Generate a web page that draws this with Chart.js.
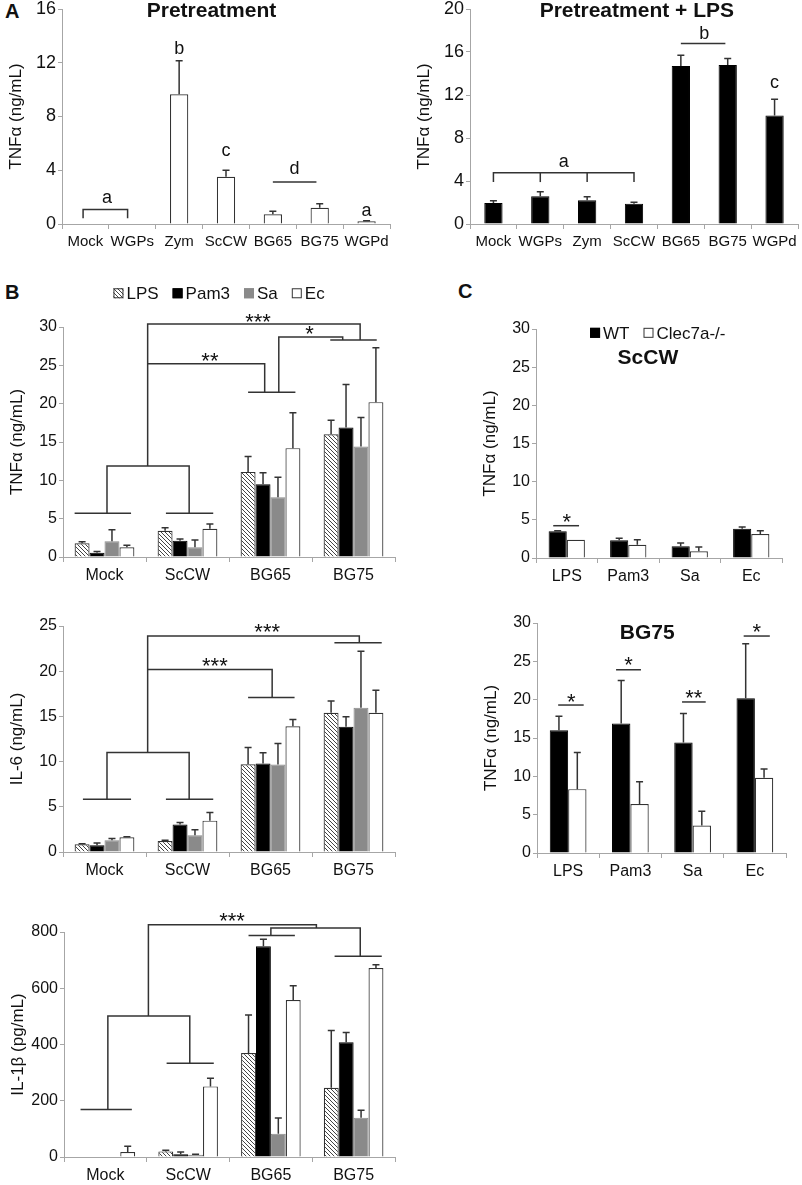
<!DOCTYPE html>
<html>
<head>
<meta charset="utf-8">
<script src="https://cdn.jsdelivr.net/npm/chart.js@4.4.1/dist/chart.umd.min.js"></script>
<style>
  body { margin: 0; background: #fff; width: 802px; height: 1185px; position: relative; overflow: hidden;
         font-family: "Liberation Sans", Arial, sans-serif; }
  canvas { position: absolute; }
  .tag { position: absolute; font-weight: bold; font-size: 20px; line-height: 20px; color: #111; }
</style>
</head>
<body>
<div class="tag" style="left:5px;top:1px">A</div>
<div class="tag" style="left:5px;top:282px">B</div>
<div class="tag" style="left:458px;top:281px">C</div>
<canvas id="aLeft"></canvas>
<canvas id="aRight"></canvas>
<canvas id="bTnf"></canvas>
<canvas id="bIl6"></canvas>
<canvas id="bIl1"></canvas>
<canvas id="cSccw"></canvas>
<canvas id="cBg75"></canvas>
<script>
// ---- data (means and SD) ----
const pretreatLabels = ['Mock', 'WGPs', 'Zym', 'ScCW', 'BG65', 'BG75', 'WGPd'];
const pretreatTnf   = [0, 0, 9.65, 3.52, 0.72, 1.21, 0.2];
const pretreatSd    = [0, 0, 2.5, 0.48, 0.22, 0.3, 0.05];
const lpsTnf        = [1.95, 2.57, 2.2, 1.89, 14.7, 14.8, 10.1];
const lpsSd         = [0.22, 0.43, 0.34, 0.13, 1.0, 0.6, 1.5];

const groups  = ['Mock', 'ScCW', 'BG65', 'BG75'];
const stimuli = ['LPS', 'Pam3', 'Sa', 'Ec'];

const tnfLps  = [1.8, 3.42, 11.1, 16.0],  tnfLpsSd  = [0.2, 0.41, 2.0, 1.85];
const tnfPam3 = [0.54, 2.12, 9.5, 16.9],  tnfPam3Sd = [0.18, 0.22, 1.5, 5.6];
const tnfSa   = [2.07, 1.26, 7.8, 14.4],  tnfSaSd   = [1.5, 0.95, 2.6, 3.8];
const tnfEc   = [1.26, 3.69, 14.2, 20.2], tnfEcSd   = [0.27, 0.63, 4.6, 7.1];

const il6Lps  = [0.85, 1.22, 9.7, 15.4],  il6LpsSd  = [0.05, 0.07, 1.85, 1.3];
const il6Pam3 = [0.74, 3.03, 9.79, 13.85], il6Pam3Sd = [0.26, 0.22, 1.2, 1.1];
const il6Sa   = [1.29, 1.85, 9.67, 15.95], il6SaSd  = [0.19, 0.62, 2.33, 6.25];
const il6Ec   = [1.62, 3.47, 13.9, 15.4],  il6EcSd  = [0.08, 0.89, 0.76, 2.5];

const il1Lps  = [0, 20, 370, 246],   il1LpsSd  = [0, 4, 135, 204];
const il1Pam3 = [0, 9.5, 749, 408],  il1Pam3Sd = [0, 8.5, 25, 35];
const il1Sa   = [0, 8, 83, 140],     il1SaSd   = [0, 1.5, 56, 26];
const il1Ec   = [17.8, 251, 558, 672], il1EcSd = [20, 29, 51, 12];

const sccwWt = [3.49, 2.31, 1.53, 3.84], sccwWtSd = [0.08, 0.29, 0.43, 0.21];
const sccwKo = [2.4, 1.74, 0.87, 3.14],  sccwKoSd = [0, 0.66, 0.57, 0.43];
const bg75Wt = [16.0, 16.9, 14.4, 20.2], bg75WtSd = [1.85, 5.6, 3.8, 7.1];
const bg75Ko = [8.33, 6.4, 3.58, 9.8],   bg75KoSd = [4.77, 2.9, 1.87, 1.15];

// ---- annotations, in (category index, value) units ----
const aLeftLines = [[[-0.05, 0.42], [-0.05, 1.07], [0.9, 1.07], [0.9, 0.42]], [[4.0, 3.13], [4.93, 3.13]]];
const aLeftText  = [[0.46, 1.9, 'a'], [2, 13, 'b'], [3, 5.4, 'c'], [4.46, 4.1, 'd'], [6, 0.97, 'a']];
const aRightLines = [[[0, 3.9], [0, 4.77], [3, 4.77], [3, 3.9]], [[1, 4.77], [1, 3.9]], [[2, 4.77], [2, 3.9]],
                     [[4.0, 16.8], [4.95, 16.8]]];
const aRightText  = [[1.5, 5.8, 'a'], [4.5, 17.7, 'b'], [6, 13.1, 'c']];

const tnfLines = [
  [[-0.36, 5.72], [0.32, 5.72]], [[0.74, 5.72], [1.31, 5.72]],
  [[0.03, 5.72], [0.03, 11.87], [1.02, 11.87], [1.02, 5.72]],
  [[0.52, 11.87], [0.52, 30.4], [3.08, 30.4], [3.08, 28.3]],
  [[0.52, 25.2], [1.93, 25.2], [1.93, 21.5]],
  [[1.73, 21.5], [2.30, 21.5]],
  [[2.1, 21.5], [2.1, 28.7], [2.87, 28.7], [2.87, 28.3]],
  [[2.72, 28.3], [3.28, 28.3]]
];
const tnfText = [[1.27, 26.1, '**'], [1.85, 31.2, '***'], [2.47, 29.6, '*']];

const il6Lines = [
  [[-0.26, 5.83], [0.32, 5.83]], [[0.74, 5.83], [1.31, 5.83]],
  [[0.03, 5.83], [0.03, 11], [1.02, 11], [1.02, 5.83]],
  [[0.52, 11], [0.52, 23.9], [3.07, 23.9], [3.07, 23.15]],
  [[0.52, 20.2], [2.02, 20.2], [2.02, 17.1]],
  [[1.73, 17.1], [2.29, 17.1]],
  [[2.77, 23.15], [3.34, 23.15]]
];
const il6Text = [[1.96, 24.75, '***'], [1.33, 21.0, '***']];

const il1Lines = [
  [[-0.3, 169], [0.32, 169]], [[0.74, 333], [1.31, 333]],
  [[0.03, 169], [0.03, 501], [1.02, 501], [1.02, 333]],
  [[0.52, 501], [0.52, 826], [2.55, 826], [2.55, 814]],
  [[2.0, 788], [2.0, 814], [3.08, 814], [3.08, 714]],
  [[1.73, 788], [2.29, 788]],
  [[2.77, 714], [3.34, 714]]
];
const il1Text = [[1.53, 853, '***']];

const sccwLines = [[[-0.22, 4.23], [0.2, 4.23]]];
const sccwText  = [[0, 5.2, '*']];
const bg75Lines = [[[-0.16, 19.3], [0.25, 19.3]], [[0.77, 23.9], [1.17, 23.9]],
                   [[1.83, 19.7], [2.21, 19.7]], [[2.82, 28.3], [3.24, 28.3]]];
const bg75Text  = [[0.05, 20.2, '*'], [0.97, 25.0, '*'], [2.02, 20.7, '**'], [3.03, 29.3, '*']];

// ---- styles ----
const FONT = '"Liberation Sans", Arial, sans-serif';
const AXIS = '#a6a6a6';
const INK = '#333';
Chart.defaults.font.family = FONT;
Chart.defaults.color = '#111';

function hatch() {
  const c = document.createElement('canvas');
  c.width = 4; c.height = 4;
  const g = c.getContext('2d');
  g.fillStyle = '#fff'; g.fillRect(0, 0, 4, 4);
  g.strokeStyle = '#444'; g.lineWidth = 1;
  g.beginPath();
  g.moveTo(0, 0); g.lineTo(4, 4);
  g.moveTo(-1, 3); g.lineTo(1, 5);
  g.moveTo(3, -1); g.lineTo(5, 1);
  g.stroke();
  return g.createPattern(c, 'repeat');
}
const HATCH = hatch();

const styles = {
  white: {backgroundColor: '#fff', borderColor: INK, borderWidth: 1.2},
  black: {backgroundColor: '#000', borderColor: '#000', borderWidth: 1},
  gray:  {backgroundColor: '#8a8a8a', borderColor: '#8a8a8a', borderWidth: 1},
  hatch: {backgroundColor: HATCH, borderColor: INK, borderWidth: 1.2}
};

function series(label, data, sd, style) {
  return Object.assign({label, data, sd}, styles[style]);
}

// error bars, brackets, stars, titles and legends
const annotate = {
  id: 'annotate',
  afterDatasetsDraw(chart, args, o) {
    const {ctx, scales: {x, y}} = chart;
    ctx.save();
    ctx.strokeStyle = INK;
    ctx.lineWidth = 1.5;
    chart.data.datasets.forEach((ds, i) => {
      chart.getDatasetMeta(i).data.forEach((bar, j) => {
        const sd = ds.sd[j];
        if (!sd) return;
        const top = y.getPixelForValue(ds.data[j] + sd);
        ctx.beginPath();
        ctx.moveTo(bar.x, bar.y); ctx.lineTo(bar.x, top);
        ctx.moveTo(bar.x - 3.5, top); ctx.lineTo(bar.x + 3.5, top);
        ctx.stroke();
      });
    });
    (o.lines || []).forEach(pts => {
      ctx.beginPath();
      pts.forEach(([a, b], k) => {
        const px = x.getPixelForValue(a), py = y.getPixelForValue(b);
        if (k) ctx.lineTo(px, py); else ctx.moveTo(px, py);
      });
      ctx.stroke();
    });
    ctx.fillStyle = '#111';
    ctx.textAlign = 'center';
    ctx.textBaseline = 'middle';
    (o.texts || []).forEach(([a, b, t]) => {
      const stars = /^\*+$/.test(t);
      ctx.font = (stars ? '22px ' : '18px ') + FONT;
      ctx.fillText(t, x.getPixelForValue(a), y.getPixelForValue(b) + (stars ? 5 : 0));
    });
    if (o.title) {
      ctx.font = 'bold 21px ' + FONT;
      ctx.fillText(o.title[2], x.getPixelForValue(o.title[0]), y.getPixelForValue(o.title[1]));
    }
    if (o.legend) {
      ctx.font = '17px ' + FONT;
      const box = 10, gap = 3, space = 14;
      const items = chart.data.datasets.map(ds => ({ds, w: ctx.measureText(ds.label).width}));
      const total = items.reduce((s, it) => s + box + gap + it.w, 0) + space * (items.length - 1);
      let cx = x.getPixelForValue(o.legend[0]) - total / 2;
      const cy = y.getPixelForValue(o.legend[1]);
      ctx.textAlign = 'left';
      items.forEach(({ds, w}) => {
        ctx.fillStyle = ds.backgroundColor;
        ctx.fillRect(cx, cy - box / 2, box, box);
        ctx.strokeStyle = ds.borderColor;
        ctx.lineWidth = 1;
        ctx.strokeRect(cx + 0.5, cy - box / 2 + 0.5, box - 1, box - 1);
        ctx.fillStyle = '#111';
        ctx.fillText(ds.label, cx + box + gap, cy + 1);
        cx += box + gap + w + space;
      });
    }
    ctx.restore();
  }
};

function panel(id, box, labels, datasets, opt) {
  const cv = document.getElementById(id);
  cv.width = box.w; cv.height = box.h;
  cv.style.left = box.left + 'px';
  cv.style.top = box.top + 'px';
  return new Chart(cv, {
    type: 'bar',
    data: {labels, datasets},
    options: {
      responsive: false,
      animation: false,
      layout: {padding: {top: box.padTop, right: box.padRight, left: 0, bottom: 0}},
      datasets: {bar: {categoryPercentage: opt.cat, barPercentage: opt.bar}},
      plugins: {legend: {display: false}, tooltip: {enabled: false}, annotate: opt.notes},
      scales: {
        x: {
          grid: {drawOnChartArea: false, color: AXIS, tickLength: 5, offset: true},
          border: {color: AXIS},
          ticks: {font: {size: opt.xFont}, maxRotation: 0, autoSkip: false, padding: 4},
          afterFit: s => { s.height = box.xH; }
        },
        y: {
          min: 0, max: opt.max,
          grid: {drawOnChartArea: false, color: AXIS, tickLength: 4},
          border: {color: AXIS},
          ticks: {stepSize: opt.step, font: {size: opt.yFont}, padding: 2},
          title: {display: true, text: opt.title, font: {size: 17}, padding: {top: 4, bottom: 0}},
          afterFit: s => { s.width = 60; }
        }
      }
    },
    plugins: [annotate]
  });
}

panel('aLeft', {left: 2, top: -4, w: 394, h: 256, padTop: 13, padRight: 6, xH: 28},
  pretreatLabels, [series('TNFα', pretreatTnf, pretreatSd, 'white')],
  {cat: 1, bar: 0.39, max: 16, step: 4, xFont: 15, yFont: 18, title: 'TNFα (ng/mL)',
   notes: {lines: aLeftLines, texts: aLeftText, title: [2.69, 15.85, 'Pretreatment']}});

panel('aRight', {left: 410, top: -4, w: 391, h: 256, padTop: 13, padRight: 3, xH: 28},
  pretreatLabels, [series('TNFα', lpsTnf, lpsSd, 'black')],
  {cat: 1, bar: 0.39, max: 20, step: 4, xFont: 15, yFont: 18, title: 'TNFα (ng/mL)',
   notes: {lines: aRightLines, texts: aRightText, title: [3.06, 19.8, 'Pretreatment + LPS']}});

panel('bTnf', {left: 3, top: 278, w: 398, h: 307, padTop: 49, padRight: 6, xH: 28},
  groups, [series('LPS', tnfLps, tnfLpsSd, 'hatch'), series('Pam3', tnfPam3, tnfPam3Sd, 'black'),
           series('Sa', tnfSa, tnfSaSd, 'gray'), series('Ec', tnfEc, tnfEcSd, 'white')],
  {cat: 0.72, bar: 1, max: 30, step: 5, xFont: 16, yFont: 16, title: 'TNFα (ng/mL)',
   notes: {lines: tnfLines, texts: tnfText, legend: [1.38, 34.4]}});

panel('bIl6', {left: 3, top: 598, w: 398, h: 284, padTop: 28, padRight: 6, xH: 30},
  groups, [series('LPS', il6Lps, il6LpsSd, 'hatch'), series('Pam3', il6Pam3, il6Pam3Sd, 'black'),
           series('Sa', il6Sa, il6SaSd, 'gray'), series('Ec', il6Ec, il6EcSd, 'white')],
  {cat: 0.72, bar: 1, max: 25, step: 5, xFont: 16, yFont: 16, title: 'IL-6 (ng/mL)',
   notes: {lines: il6Lines, texts: il6Text}});

panel('bIl1', {left: 4, top: 898, w: 397, h: 287, padTop: 34, padRight: 6, xH: 28},
  groups, [series('LPS', il1Lps, il1LpsSd, 'hatch'), series('Pam3', il1Pam3, il1Pam3Sd, 'black'),
           series('Sa', il1Sa, il1SaSd, 'gray'), series('Ec', il1Ec, il1EcSd, 'white')],
  {cat: 0.72, bar: 1, max: 800, step: 200, xFont: 16, yFont: 16, title: 'IL-1β (pg/mL)',
   notes: {lines: il1Lines, texts: il1Text}});

panel('cSccw', {left: 476, top: 298, w: 312, h: 288, padTop: 31, padRight: 6, xH: 28},
  stimuli, [series('WT', sccwWt, sccwWtSd, 'black'), series('Clec7a-/-', sccwKo, sccwKoSd, 'white')],
  {cat: 0.59, bar: 1, max: 30, step: 5, xFont: 16, yFont: 16, title: 'TNFα (ng/mL)',
   notes: {lines: sccwLines, texts: sccwText, title: [1.32, 26.2, 'ScCW'], legend: [1.48, 29.5]}});

panel('cBg75', {left: 477, top: 598, w: 315, h: 285, padTop: 25, padRight: 6, xH: 30},
  stimuli, [series('WT', bg75Wt, bg75WtSd, 'black'), series('Clec7a-/-', bg75Ko, bg75KoSd, 'white')],
  {cat: 0.59, bar: 1, max: 30, step: 5, xFont: 16, yFont: 16, title: 'TNFα (ng/mL)',
   notes: {lines: bg75Lines, texts: bg75Text, title: [1.27, 28.7, 'BG75']}});
</script>
</body>
</html>
